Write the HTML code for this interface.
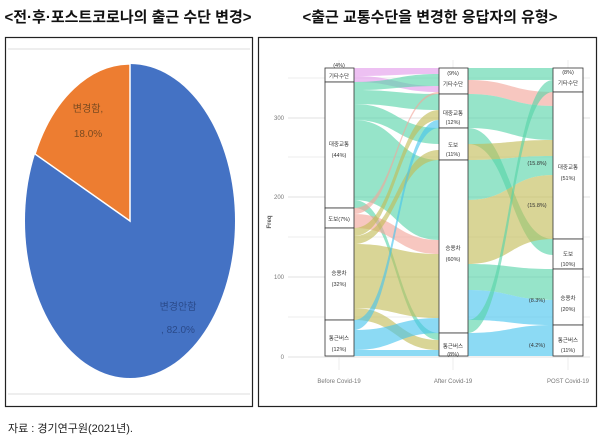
<!DOCTYPE html>
<html><head><meta charset="utf-8"><style>
body{margin:0;width:600px;height:443px;background:#fff;overflow:hidden;font-family:"Liberation Sans","Noto Sans CJK KR",sans-serif}
svg{position:absolute;left:0;top:0}
</style></head><body>
<svg width="600" height="443" viewBox="0 0 600 443" font-family="Liberation Sans, Noto Sans CJK KR, sans-serif">
<text x="128" y="22" font-size="15" font-weight="bold" text-anchor="middle" fill="#111">&lt;전·후·포스트코로나의 출근 수단 변경&gt;</text>
<text x="430" y="22" font-size="15" font-weight="bold" text-anchor="middle" fill="#111">&lt;출근 교통수단을 변경한 응답자의 유형&gt;</text>
<rect x="5.5" y="37.5" width="247" height="369" fill="#fff" stroke="#222" stroke-width="1.2"/>
<line x1="8" y1="49" x2="250" y2="49" stroke="#ddd"/>
<line x1="8" y1="394" x2="250" y2="394" stroke="#ddd"/>
<ellipse cx="130" cy="221" rx="105" ry="157" fill="#4472c4"/>
<path d="M130 221 L130 64 A105 157 0 0 0 35 154 Z" fill="#ed7d31" stroke="#fff" stroke-width="1.5"/>
<text x="88" y="112" font-size="10" fill="#7a4a20" text-anchor="middle">변경함,</text>
<text x="88" y="137" font-size="10" fill="#7a4a20" text-anchor="middle">18.0%</text>
<text x="178" y="310" font-size="10" fill="#2a4a8a" text-anchor="middle">변경안함</text>
<text x="178" y="333" font-size="10" fill="#2a4a8a" text-anchor="middle">, 82.0%</text>
<rect x="258.5" y="37.5" width="338" height="369" fill="#fff" stroke="#222" stroke-width="1.2"/>
<g stroke="#eee" stroke-width="1">
<line x1="288" y1="78" x2="590" y2="78"/><line x1="288" y1="157" x2="590" y2="157"/><line x1="288" y1="237" x2="590" y2="237"/><line x1="288" y1="317" x2="590" y2="317"/>
<line x1="339" y1="60" x2="339" y2="370"/><line x1="453" y1="60" x2="453" y2="370"/><line x1="568" y1="60" x2="568" y2="370"/>
</g>
<g stroke="#e2e2e2" stroke-width="1">
<line x1="288" y1="118" x2="590" y2="118"/><line x1="288" y1="197" x2="590" y2="197"/><line x1="288" y1="277" x2="590" y2="277"/><line x1="288" y1="357" x2="590" y2="357"/>
</g>
<g font-size="6" fill="#777" text-anchor="end">
<text x="284" y="120">300</text><text x="284" y="199">200</text><text x="284" y="279">100</text><text x="284" y="359">0</text>
</g>
<text transform="translate(271,222) rotate(-90)" font-size="6" fill="#555" text-anchor="middle" font-weight="bold">Freq</text>
<g font-size="6" fill="#777" text-anchor="middle">
<text x="339" y="383">Before Covid-19</text><text x="453" y="383">After Covid-19</text><text x="568" y="383">POST Covid-19</text>
</g>
<g id="flows" fill-opacity="0.62"></g>
<g fill="#fff" stroke="#333" stroke-width="0.8">
<rect x="325" y="68" width="29" height="14"/><rect x="325" y="82" width="29" height="126"/><rect x="325" y="208" width="29" height="20"/><rect x="325" y="228" width="29" height="92"/><rect x="325" y="320" width="29" height="36"/>
<rect x="439" y="68" width="29" height="26"/><rect x="439" y="94" width="29" height="34"/><rect x="439" y="128" width="29" height="32"/><rect x="439" y="160" width="29" height="173"/><rect x="439" y="333" width="29" height="23"/>
<rect x="553" y="68" width="30" height="24"/><rect x="553" y="92" width="30" height="147"/><rect x="553" y="239" width="30" height="30"/><rect x="553" y="269" width="30" height="56"/><rect x="553" y="325" width="30" height="31"/>
</g>
<g font-size="5.5" fill="#333" text-anchor="middle">
<text x="339" y="67">(4%)</text><text x="339" y="78">기타수단</text>
<text x="339" y="146">대중교통</text><text x="339" y="157">(44%)</text>
<text x="339" y="221">도보(7%)</text>
<text x="339" y="275">승용차</text><text x="339" y="286">(32%)</text>
<text x="339" y="340">통근버스</text><text x="339" y="351">(12%)</text>
<text x="453" y="75">(9%)</text><text x="453" y="86">기타수단</text>
<text x="453" y="115">대중교통</text><text x="453" y="124">(12%)</text>
<text x="453" y="147">도보</text><text x="453" y="156">(11%)</text>
<text x="453" y="250">승용차</text><text x="453" y="261">(60%)</text>
<text x="453" y="348">통근버스</text><text x="453" y="356">(8%)</text>
<text x="568" y="74">(8%)</text><text x="568" y="85">기타수단</text>
<text x="568" y="169">대중교통</text><text x="568" y="180">(51%)</text>
<text x="568" y="256">도보</text><text x="568" y="266">(10%)</text>
<text x="568" y="300">승용차</text><text x="568" y="311">(20%)</text>
<text x="568" y="342">통근버스</text><text x="568" y="352">(11%)</text>
<text x="537" y="165">(15.8%)</text><text x="537" y="207">(15.8%)</text><text x="537" y="302">(8.3%)</text><text x="537" y="347">(4.2%)</text>
</g>
<text x="8" y="432" font-size="11" fill="#222">자료 : 경기연구원(2021년).</text>
</svg>
<script>
var T="#55d4a8",O="#c2bb55",B="#45c3ee",P="#f2a49a",V="#e29aea";
var s1=[[68,76,68,74,V],[76,82,86,92,V],[82,90,74,86,T],[90,104,94,110,T],[104,120,128,144,T],[120,200,160,240,T],[200,208,333,340,T],[208,214,92,94,P],[214,228,240,254,P],[228,236,110,120,O],[236,244,150,160,O],[244,308,254,318,O],[308,320,340,350,O],[320,330,120,128,B],[330,350,318,333,B],[350,356,350,356,B]];
var s2=[[68,80,68,80,T],[80,94,92,106,P],[94,128,106,140,T],[128,144,239,255,T],[144,160,140,156,O],[160,200,156,175,T],[200,264,175,239,O],[264,290,269,300,T],[290,320,300,325,B],[320,333,80,92,T],[333,356,325,356,B]];
var g=document.getElementById("flows"),ns="http://www.w3.org/2000/svg";
function add(x0,x1,f){var m=(x0+x1)/2;var p=document.createElementNS(ns,"path");
p.setAttribute("d","M"+x0+" "+f[0]+"C"+m+" "+f[0]+" "+m+" "+f[2]+" "+x1+" "+f[2]+"L"+x1+" "+f[3]+"C"+m+" "+f[3]+" "+m+" "+f[1]+" "+x0+" "+f[1]+"Z");
p.setAttribute("fill",f[4]);g.appendChild(p);}
s1.forEach(function(f){add(354,439,f)});s2.forEach(function(f){add(468,553,f)});
</script>
</body></html>
